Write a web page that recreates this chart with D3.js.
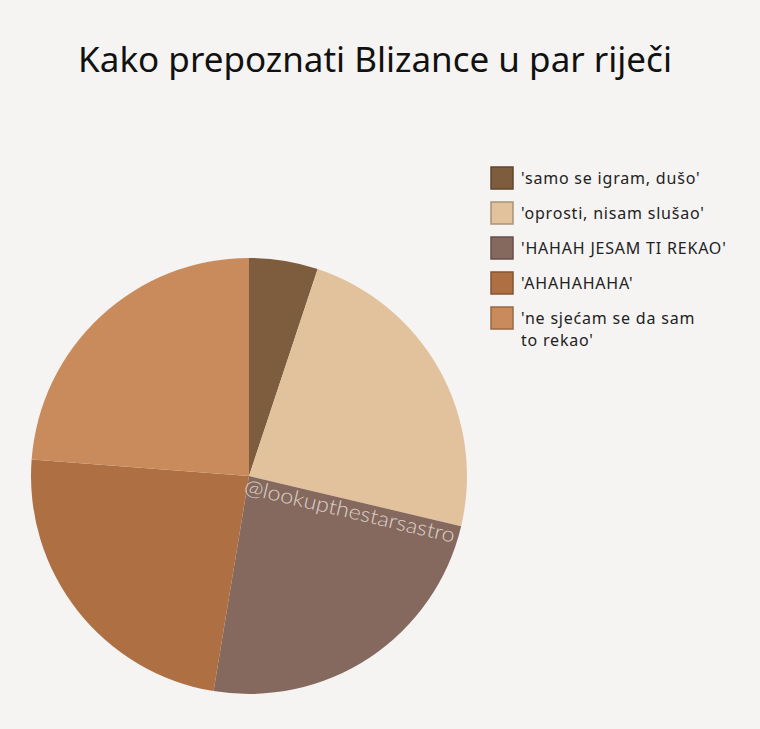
<!DOCTYPE html>
<html>
<head>
<meta charset="utf-8">
<script src="https://cdn.jsdelivr.net/npm/d3@7"></script>
<style>
  html, body { margin: 0; padding: 0; background: #f5f4f2; }
  svg { display: block; }
</style>
</head>
<body>
<div id="chart"></div>
<script>
// slice labels and shares (clockwise from 12 o'clock)
var labels = ["'samo se igram, dušo'", "'oprosti, nisam slušao'", "'HAHAH JESAM TI REKAO'", "'AHAHAHAHA'", "'ne sjećam se da sam to rekao'"];
var legendLines = [["'samo se igram, dušo'"], ["'oprosti, nisam slušao'"], ["'HAHAH JESAM TI REKAO'"], ["'AHAHAHAHA'"], ["'ne sjećam se da sam", "to rekao'"]];
var values = [5.1, 23.6, 23.9, 23.6, 23.8];
var colors = ["#7d5d3d", "#e1c29d", "#85695e", "#ae7043", "#c98b5b"];

var width = 760, height = 729;

var svg = d3.select("#chart").append("svg")
    .attr("width", width)
    .attr("height", height);

svg.append("rect")
    .attr("width", width)
    .attr("height", height)
    .attr("fill", "#f5f4f2");

// title
svg.append("text")
    .attr("x", 375)
    .attr("y", 72)
    .attr("text-anchor", "middle")
    .attr("font-family", "'Noto Sans', sans-serif")
    .attr("font-size", 35)
    .attr("fill", "#111")
    .text("Kako prepoznati Blizance u par riječi");

// pie
var cx = 249, cy = 476, radius = 218;

var pie = d3.pie()
    .sort(null)
    .value(function(d) { return d; });

var arc = d3.arc()
    .innerRadius(0)
    .outerRadius(radius);

var g = svg.append("g")
    .attr("transform", "translate(" + cx + "," + cy + ")");

g.selectAll("path.slice")
    .data(pie(values))
    .enter().append("path")
    .attr("class", "slice")
    .attr("d", arc)
    .attr("fill", function(d, i) { return colors[i]; });

// watermark along the edge of the third slice
var arcs = pie(values);
var ang = arcs[2].startAngle * 180 / Math.PI - 90;
g.append("text")
    .attr("transform", "rotate(" + ang + ") translate(-2,18)")
    .attr("font-family", "Lato, sans-serif")
    .attr("font-weight", 300)
    .attr("font-size", 21)
    .attr("textLength", 216)
    .attr("lengthAdjust", "spacingAndGlyphs")
    .attr("fill", "#ece4df")
    .attr("fill-opacity", 0.85)
    .text("@lookupthestarsastro");

// legend
var legend = svg.append("g")
    .attr("transform", "translate(491,167)");

var item = legend.selectAll("g.item")
    .data(legendLines)
    .enter().append("g")
    .attr("class", "item")
    .attr("transform", function(d, i) { return "translate(0," + (i * 35) + ")"; });

item.append("rect")
    .attr("width", 22)
    .attr("height", 22)
    .attr("fill", function(d, i) { return colors[i]; })
    .attr("stroke", function(d, i) { return d3.color(colors[i]).darker(0.8); })
    .attr("stroke-width", 1.5);

item.append("text")
    .attr("x", 30)
    .attr("y", 17)
    .attr("font-family", "'Noto Sans', sans-serif")
    .attr("font-size", 16)
    .attr("letter-spacing", 0.8)
    .attr("fill", "#222")
    .selectAll("tspan")
    .data(function(d) { return d; })
    .enter().append("tspan")
    .attr("x", 30)
    .attr("dy", function(d, i) { return i === 0 ? 0 : 22; })
    .text(function(d) { return d; });
</script>
</body>
</html>
